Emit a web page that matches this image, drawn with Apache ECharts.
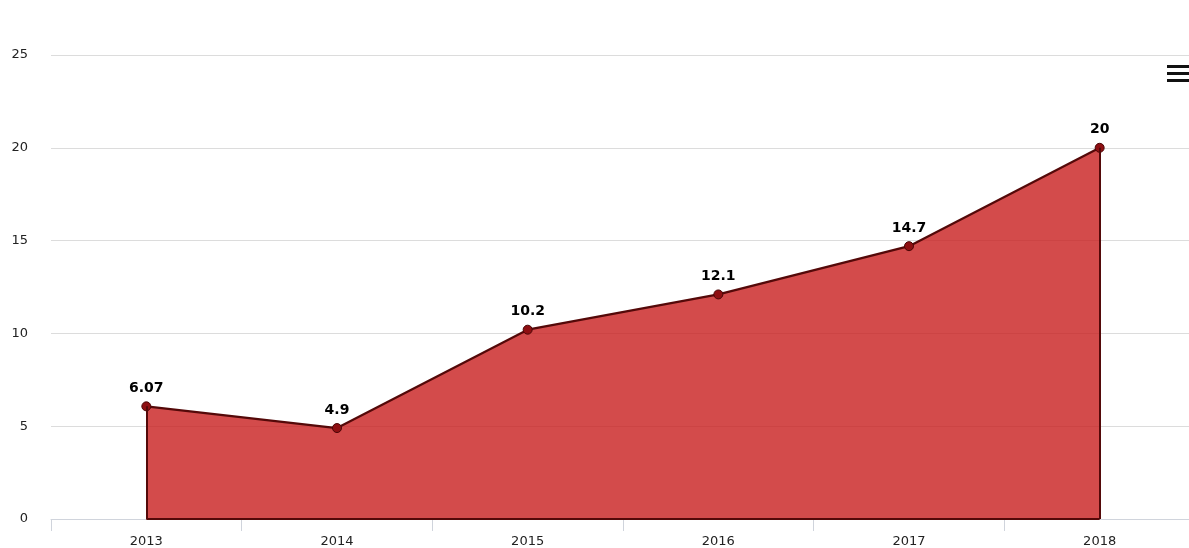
<!DOCTYPE html>
<html>
<head>
<meta charset="utf-8">
<script src="https://cdn.jsdelivr.net/npm/echarts@6/dist/echarts.min.js"></script>
<style>
  html, body { margin: 0; padding: 0; background: #fff; overflow: hidden; }
  /* the plot runs a few pixels past the visible right edge */
  #chart { width: 1196px; height: 548px; }
</style>
</head>
<body>
<div id="chart"></div>
<script>
// Yearly values
const years = ['2013', '2014', '2015', '2016', '2017', '2018'];
const values = [6.07, 4.9, 10.2, 12.1, 14.7, 20];
const yTicks = { min: 0, max: 25, interval: 5 };

const edge = '#540909';
const first = years[0], last = years[years.length - 1];

const chart = echarts.init(document.getElementById('chart'));
chart.setOption({
  animation: false,
  backgroundColor: '#ffffff',
  grid: { left: 51, right: 1, top: 55, bottom: 29, containLabel: false },
  xAxis: {
    type: 'category',
    data: years,
    boundaryGap: true,
    axisLine: { lineStyle: { color: '#d0d4dc', width: 1 } },
    axisTick: { show: true, length: 12, lineStyle: { color: '#d0d4dc' } },
    axisLabel: { color: '#222', fontFamily: 'DejaVu Sans', fontSize: 13, margin: 16 },
    splitLine: { show: false }
  },
  yAxis: {
    type: 'value',
    min: yTicks.min, max: yTicks.max, interval: yTicks.interval,
    axisLine: { show: false },
    axisTick: { show: false },
    axisLabel: { color: '#222', fontFamily: 'DejaVu Sans', fontSize: 13, margin: 23 },
    splitLine: { lineStyle: { color: '#dcdcdc', width: 1 } }
  },
  series: [{
    type: 'line',
    data: values,
    symbol: 'circle',
    symbolSize: 9,
    itemStyle: { color: '#8e0f12', borderColor: '#4a0606', borderWidth: 1 },
    lineStyle: { color: edge, width: 2.2 },
    areaStyle: { color: 'rgb(200,30,30)', opacity: 0.8 },
    label: {
      show: true, position: 'top', distance: 6,
      color: '#000', fontWeight: 'bold', fontFamily: 'DejaVu Sans', fontSize: 14
    },
    markLine: {
      silent: true, symbol: 'none', label: { show: false },
      lineStyle: { color: edge, width: 2, type: 'solid' },
      data: [
        [{ coord: [first, 0] }, { coord: [first, values[0]] }],
        [{ coord: [last, 0] }, { coord: [last, values[values.length - 1]] }],
        [{ coord: [first, 0] }, { coord: [last, 0] }]
      ]
    }
  }],
  // export menu icon
  graphic: [
    { type: 'rect', left: 1167, top: 65, shape: { width: 26, height: 3 }, style: { fill: '#111' } },
    { type: 'rect', left: 1167, top: 72, shape: { width: 26, height: 3 }, style: { fill: '#111' } },
    { type: 'rect', left: 1167, top: 79, shape: { width: 26, height: 3 }, style: { fill: '#111' } }
  ]
});
</script>
</body>
</html>
